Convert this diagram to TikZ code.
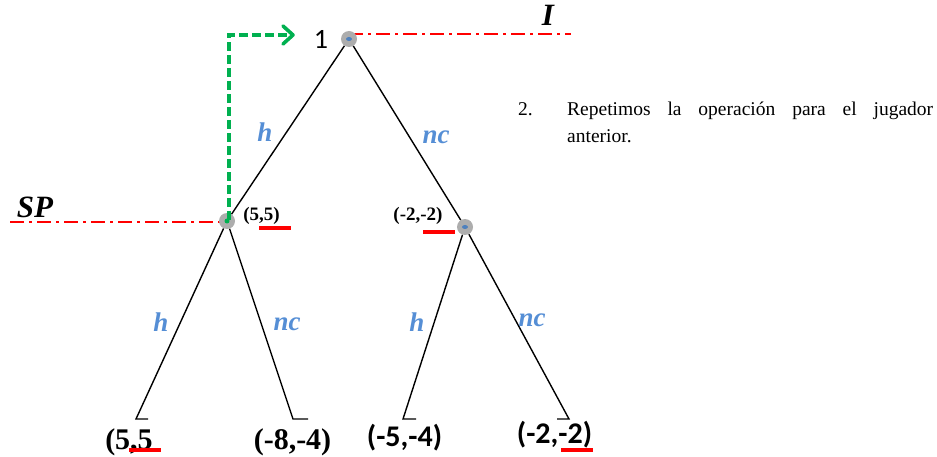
\documentclass[tikz,border=0pt]{standalone}
\usepackage{fontspec}
\setmainfont{Liberation Serif}
\newfontfamily\calib{Carlito}
\usetikzlibrary{arrows.meta}
\definecolor{lblblue}{HTML}{558ED5}
\definecolor{dotblue}{HTML}{4F81BD}
\definecolor{nodegrey}{HTML}{ADADAD}
\definecolor{grn}{HTML}{00B050}
\definecolor{rd}{HTML}{FF0000}
\tikzset{
  dec/.style={circle,fill=nodegrey,minimum size=16pt,inner sep=0pt},
  branch/.style={line width=1.4pt,black},
  spline/.style={rd,line width=1.8pt,dash pattern=on 14pt off 5pt on 3pt off 5pt},
  uline/.style={rd,line width=3.2pt},
  greenarrow/.style={draw=grn,line width=3.6pt,dash pattern=on 9pt off 4pt},
  actlbl/.style={text=lblblue,font=\fontsize{27}{30}\selectfont\bfseries\itshape,inner sep=0pt},
  smallpay/.style={font=\fontsize{19}{22}\selectfont\bfseries,inner sep=0pt,anchor=base},
  leafpay/.style={font=\fontsize{30}{34}\selectfont\bfseries,inner sep=0pt,anchor=base},
  leafpaysans/.style={font=\calib\fontsize{30}{34}\selectfont\bfseries,inner sep=0pt,anchor=base},
  biglbl/.style={font=\fontsize{31}{34}\selectfont\bfseries\itshape,inner sep=0pt,anchor=base},
}
\begin{document}
\begin{tikzpicture}[x=1pt,y=-1pt]
\useasboundingbox (0,0) rectangle (937,457);
% coordinates
\coordinate (iR) at (571,34);
\coordinate (rootc) at (349,34);
\coordinate (spL) at (10,222);
\coordinate (g0) at (229,220);
\coordinate (g1) at (293,35);
\coordinate (l1) at (136,419);
\coordinate (l1t) at (148,419);
\coordinate (l2) at (293,419);
\coordinate (l2t) at (308,419);
\coordinate (l3) at (403,419);
\coordinate (l3t) at (416,419);
\coordinate (l4) at (569,419);
\coordinate (l4t) at (557,419);
% dash-dot lines
\draw[spline] (rootc) -- (iR);
\draw[spline] (spL) -- (227,222);
% decision nodes
\node[dec] (root) at (349,39) {};
\node[dec] (sp) at (227,221) {};
\node[dec] (rn) at (465,227) {};
\fill[dotblue] (349,39) ellipse (3pt and 2pt);
\fill[dotblue] (465,227) ellipse (3pt and 2pt);
% branches
\draw[branch] (root) -- (sp);
\draw[branch] (root) -- (rn);
\draw[branch] (sp) -- (l1) -- (l1t);
\draw[branch] (sp) -- (l2) -- (l2t);
\draw[branch] (rn) -- (l3) -- (l3t);
\draw[branch] (rn) -- (l4) -- (l4t);
% green arrow
\draw[greenarrow] (g0) |- (g1);
\draw[grn,line width=3.6pt,line cap=round,line join=round] (283,26) -- (293,35) -- (283,44);
\fill[grn] (227,221) circle (2.5pt);
% labels
\node[font=\calib\fontsize{28}{30}\selectfont,inner sep=0pt,anchor=base] (one) at (321,49) {1};
\node[biglbl] (ilbl) at (548,26) {I};
\node[biglbl] (splbl) at (35,218) {SP};
\node[actlbl] (h1) at (265,132) {h};
\node[actlbl] (nc1) at (436,137) {nc};
\node[actlbl] (h2) at (161,322) {h};
\node[actlbl] (nc2) at (287,324) {nc};
\node[actlbl] (h3) at (417,322) {h};
\node[actlbl] (nc3) at (532,320) {nc};
% small payoffs
\node[smallpay] (p1) at (261.5,221) {(5,5)};
\draw[uline] (259,228) -- (291,228);
\node[smallpay] (p2) at (418,221) {(-2,-2)};
\draw[uline] (423,232) -- (455,232);
% leaf payoffs
\node[leafpay] (f1) at (129,449) {(5,5};
\draw[uline] (129,450) -- (161,450);
\node[leafpay] (f2) at (292.5,449) {(-8,-4)};
\node[leafpaysans] (f3) at (404.5,446) {(-5,-4)};
\node[leafpaysans] (f4) at (554.5,443) {(-2,-2)};
\draw[uline] (561,450) -- (593,450);
% text
\node[font=\fontsize{19.5}{27}\selectfont,inner sep=0pt,anchor=base west] (num) at (518,116) {2.};
\node[font=\fontsize{19.5}{27}\selectfont,inner sep=0pt,anchor=base west] (rep) at (567,116) {\makebox[366pt][s]{Repetimos la operación para el jugador}};
\node[font=\fontsize{19.5}{27}\selectfont,inner sep=0pt,anchor=base west] (ant) at (567,143) {anterior.};
\end{tikzpicture}
\end{document}
